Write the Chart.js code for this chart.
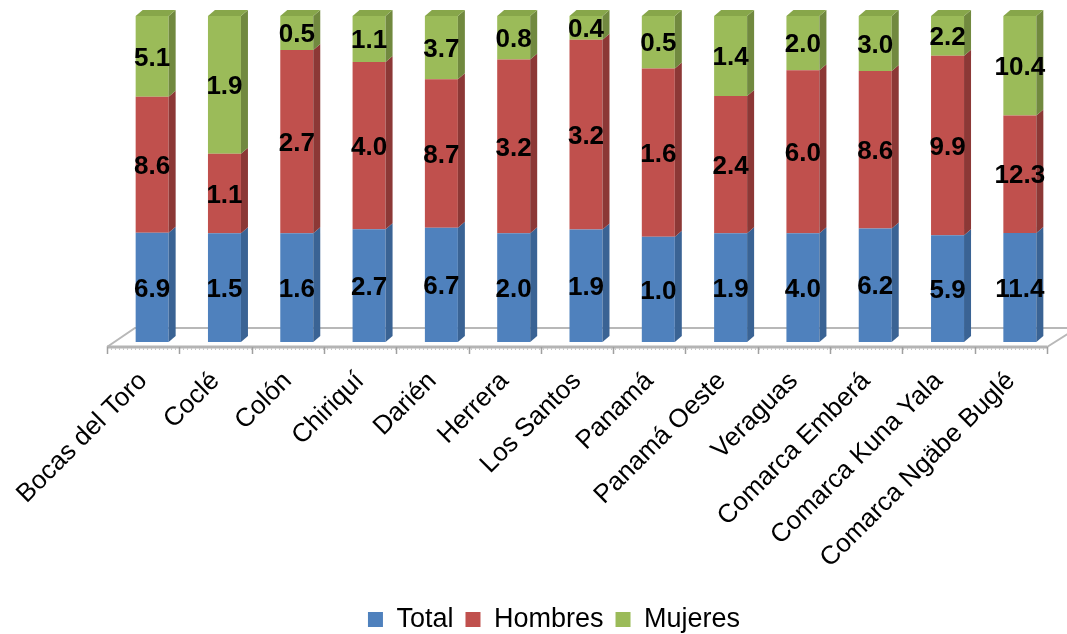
<!DOCTYPE html>
<html><head><meta charset="utf-8">
<script src="https://cdn.jsdelivr.net/npm/chart.js@4.4.1/dist/chart.umd.min.js"></script>
<style>html,body{margin:0;padding:0;background:#fff}#wrap{width:1067px;height:634px;position:relative}</style>
</head><body><div id="wrap"><canvas id="c" width="1067" height="634"></canvas></div>
<script>
const categories = ["Bocas del Toro","Coclé","Colón","Chiriquí","Darién","Herrera","Los Santos","Panamá","Panamá Oeste","Veraguas","Comarca Emberá","Comarca Kuna Yala","Comarca Ngäbe Buglé"];
const seriesNames = ["Total","Hombres","Mujeres"];
const total   = [6.9,1.5,1.6,2.7,6.7,2.0,1.9,1.0,1.9,4.0,6.2,5.9,11.4];
const hombres = [8.6,1.1,2.7,4.0,8.7,3.2,3.2,1.6,2.4,6.0,8.6,9.9,12.3];
const mujeres = [5.1,1.9,0.5,1.1,3.7,0.8,0.4,0.5,1.4,2.0,3.0,2.2,10.4];

const sums = categories.map((_, i) => total[i] + hombres[i] + mujeres[i]);
const pct = arr => arr.map((v, i) => v / sums[i] * 100);

const front = ['#4f81bd', '#c0504d', '#9bbb59'];
const side  = ['#3a6394', '#8c3836', '#71893f'];
const topC  = ['#6a93c8', '#cd6f6c', '#87a64a'];
const raws = [total, hombres, mujeres];

const FONT = '"Liberation Sans", Arial, sans-serif';
const LABEL_SHIFT = 9;
const DX = 7, DY = 6;

const plugin3d = {
  id: 'plugin3d',
  beforeDatasetsDraw(chart) {
    const ctx = chart.ctx, a = chart.chartArea;
    const fl = a.left - LABEL_SHIFT, fr = a.right - LABEL_SHIFT;
    const fy = a.bottom + 5, by = a.bottom - 14;
    ctx.save();
    ctx.strokeStyle = '#b8b8b8';
    ctx.lineWidth = 2;
    ctx.beginPath();
    ctx.moveTo(fl, fy); ctx.lineTo(fl + 28, by); ctx.lineTo(fr + 40, by);
    ctx.moveTo(fr, fy); ctx.lineTo(fr + 30, by);
    ctx.stroke();
    ctx.lineWidth = 3;
    ctx.strokeStyle = '#b4b4b4';
    ctx.beginPath(); ctx.moveTo(fl, fy); ctx.lineTo(fr, fy); ctx.stroke();
    ctx.strokeStyle = '#c8c8c8'; ctx.lineWidth = 1;
    ctx.beginPath();
    for (let x = fl; x <= fr; x += 4) { ctx.moveTo(x + 0.5, fy + 1); ctx.lineTo(x + 0.5, fy + 3); }
    ctx.stroke();
    ctx.strokeStyle = '#a0a0a0'; ctx.lineWidth = 1.5;
    const n = categories.length, w = (fr - fl) / n;
    ctx.beginPath();
    for (let k = 0; k <= n; k++) { const x = Math.round(fl + k * w) + 0.5; ctx.moveTo(x, fy); ctx.lineTo(x, fy + 7); }
    ctx.stroke();
    ctx.restore();
  },
  afterDatasetsDraw(chart) {
    const ctx = chart.ctx;
    const last = chart.data.datasets.length - 1;
    ctx.save();
    chart.data.datasets.forEach((ds, di) => {
      const meta = chart.getDatasetMeta(di);
      meta.data.forEach((el) => {
        const { x, y, base, width } = el.getProps(['x', 'y', 'base', 'width'], true);
        const l = x - width / 2, r = x + width / 2;
        ctx.fillStyle = side[di];
        ctx.beginPath();
        ctx.moveTo(r, y); ctx.lineTo(r + DX, y - DY); ctx.lineTo(r + DX, base - DY); ctx.lineTo(r, base);
        ctx.closePath(); ctx.fill();
        if (di === last) {
          ctx.fillStyle = topC[di];
          ctx.beginPath();
          ctx.moveTo(l, y); ctx.lineTo(l + DX, y - DY); ctx.lineTo(r + DX, y - DY); ctx.lineTo(r, y);
          ctx.closePath(); ctx.fill();
        }
      });
    });
    ctx.fillStyle = '#000';
    ctx.font = 'bold 26px ' + FONT;
    ctx.textAlign = 'center';
    ctx.textBaseline = 'middle';
    chart.data.datasets.forEach((ds, di) => {
      const meta = chart.getDatasetMeta(di);
      meta.data.forEach((el, i) => {
        const { x, y, base } = el.getProps(['x', 'y', 'base'], true);
        ctx.fillText(raws[di][i].toFixed(1), x, (y + base) / 2 + 2);
      });
    });
    ctx.restore();
  }
};

new Chart(document.getElementById('c'), {
  type: 'bar',
  data: {
    labels: categories,
    datasets: seriesNames.map((name, i) => ({
      label: name,
      data: pct(raws[i]),
      backgroundColor: front[i],
      borderWidth: 0,
      barPercentage: 0.9,
      categoryPercentage: 0.507
    }))
  },
  options: {
    responsive: false,
    animation: false,
    layout: { padding: { left: 52, right: 11, top: 16, bottom: -9 } },
    plugins: {
      legend: {
        position: 'bottom',
        labels: {
          font: { family: FONT, size: 27 },
          color: '#000', boxWidth: 15, boxHeight: 15, padding: 12
        }
      },
      tooltip: { enabled: false }
    },
    scales: {
      x: {
        stacked: true,
        grid: { display: false, drawTicks: false },
        border: { display: false },
        ticks: {
          autoSkip: false, maxRotation: 45, minRotation: 45,
          labelOffset: -LABEL_SHIFT, padding: 24,
          color: '#000',
          font: { family: FONT, size: 26 }
        },
        afterFit: s => { s.height = 252; s.paddingLeft = 0; s.paddingRight = 0; }
      },
      y: {
        stacked: true, display: true, min: 0, max: 100,
        grid: { display: false, drawTicks: false },
        border: { display: false },
        ticks: { display: false },
        afterFit: s => { s.width = 64; s.paddingTop = 0; s.paddingBottom = 0; }
      }
    }
  },
  plugins: [plugin3d]
});
</script></body></html>
